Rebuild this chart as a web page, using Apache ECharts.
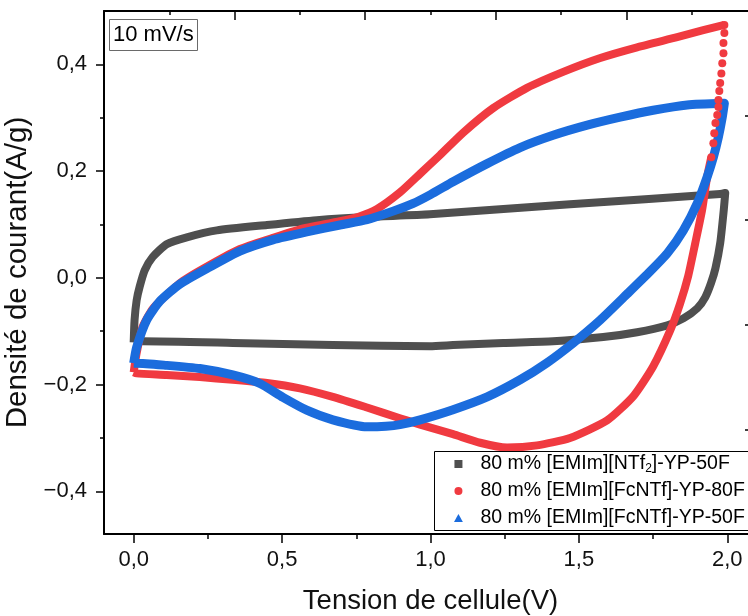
<!DOCTYPE html>
<html><head><meta charset="utf-8">
<script src="https://cdn.jsdelivr.net/npm/echarts@6/dist/echarts.min.js"></script>
<style>html,body{margin:0;padding:0;background:#fff}#c{width:748px;height:616px}</style>
</head><body><div id="c"></div>
<script>
// ---- data (V, A/g) ----
const seriesNames = ['80 m% [EMIm][NTf2]-YP-50F', '80 m% [EMIm][FcNTf]-YP-80F', '80 m% [EMIm][FcNTf]-YP-50F'];
const xMajorTicks = [0, 0.5, 1, 1.5, 2];
const xMinorTicks = [0.25, 0.75, 1.25, 1.75];
const yMajorTicks = [-0.4, -0.2, 0, 0.2, 0.4];
const yMinorTicks = [-0.3, -0.1, 0.1, 0.3];
const blackLoop = [
  [0.000,-0.121],[0.003,-0.079],[0.010,-0.042],[0.020,-0.017],[0.037,0.014],[0.064,0.039],
  [0.111,0.063],[0.179,0.076],[0.280,0.089],[0.449,0.099],[0.617,0.108],[0.786,0.114],
  [0.998,0.119],[1.470,0.138],[1.976,0.157],[1.993,0.159],[1.988,0.127],[1.976,0.065],
  [1.960,0.018],[1.945,-0.010],[1.926,-0.036],[1.899,-0.057],[1.852,-0.076],[1.798,-0.089],
  [1.696,-0.102],[1.582,-0.111],[1.413,-0.119],[1.245,-0.122],[1.076,-0.126],[0.998,-0.128],
  [0.671,-0.126],[0.334,-0.122],[0.030,-0.119],[0.000,-0.121]
];
const redUpper = [
  [0.000,-0.177],[0.010,-0.141],[0.030,-0.092],[0.064,-0.058],[0.111,-0.032],[0.165,-0.006],
  [0.256,0.024],[0.358,0.054],[0.469,0.075],[0.560,0.091],[0.695,0.106],[0.760,0.115],
  [0.820,0.129],[0.897,0.160],[0.965,0.195],[1.032,0.230],[1.110,0.272],[1.211,0.318],
  [1.325,0.356],[1.447,0.386],[1.572,0.412],[1.696,0.432],[1.831,0.451],
  [1.919,0.464],[1.990,0.474]
];
const redDots = [
  [1.990,0.474],[1.990,0.459],[1.987,0.440],[1.987,0.421],[1.983,0.402],[1.980,0.383],
  [1.976,0.365],[1.973,0.350],[1.970,0.333],[1.970,0.320],[1.966,0.305],[1.960,0.290],
  [1.956,0.271],[1.953,0.252],[1.946,0.226]
];
const redLower = [
  [1.946,0.226],[1.932,0.189],[1.915,0.127],[1.892,0.065],[1.868,0.003],[1.841,-0.048],
  [1.808,-0.098],[1.750,-0.166],[1.683,-0.222],[1.595,-0.267],[1.470,-0.300],[1.359,-0.314],
  [1.258,-0.318],[1.167,-0.309],[1.076,-0.293],[0.965,-0.275],[0.897,-0.263],[0.786,-0.243],
  [0.671,-0.223],[0.560,-0.207],[0.449,-0.197],[0.334,-0.191],[0.223,-0.186],[0.111,-0.182],
  [0.010,-0.179],[0.000,-0.177]
];
const blueLoop = [
  [0.000,-0.160],[0.010,-0.130],[0.044,-0.079],[0.088,-0.044],[0.155,-0.012],[0.256,0.020],
  [0.358,0.050],[0.469,0.071],[0.583,0.086],[0.695,0.099],[0.786,0.109],[0.874,0.125],
  [0.940,0.139],[1.000,0.156],[1.076,0.180],[1.191,0.214],[1.302,0.244],[1.413,0.267],
  [1.528,0.286],[1.639,0.301],[1.750,0.314],[1.865,0.324],[1.990,0.327],[1.983,0.301],
  [1.970,0.264],[1.953,0.226],[1.932,0.189],[1.899,0.140],[1.852,0.089],[1.798,0.046],
  [1.740,0.012],[1.663,-0.030],[1.572,-0.079],[1.481,-0.122],[1.393,-0.159],[1.302,-0.191],
  [1.191,-0.223],[1.076,-0.247],[0.965,-0.266],[0.897,-0.275],[0.850,-0.278],[0.786,-0.279],
  [0.671,-0.266],[0.583,-0.248],[0.503,-0.224],[0.425,-0.198],[0.334,-0.182],[0.223,-0.170],
  [0.111,-0.164],[0.010,-0.160],[0.000,-0.160]
];
// ---- styling ----
const FONT = '"Liberation Sans", Arial, sans-serif';
const C_BLACK = '#4f4f4f', C_RED = '#f03a40', C_BLUE = '#1b6cdd';
const fmt = v => { const s = Math.abs(v).toFixed(1).replace('.', ','); return (v < -1e-9 ? '\u2212' : '') + s; };
const axisLine = { show: true, onZero: false, lineStyle: { color: '#000', width: 2 } };
const noLine = { show: false, onZero: false };

const chart = echarts.init(document.getElementById('c'), null, { renderer: 'canvas' });
chart.setOption({
  animation: false,
  backgroundColor: '#fff',
  textStyle: { fontFamily: FONT },
  title: {
    text: '10 mV/s', left: 109, top: 19,
    borderColor: '#6a6a6a', borderWidth: 1, padding: [5, 4, 5, 4],
    textStyle: { fontSize: 22, fontWeight: 'normal', color: '#000', fontFamily: FONT }
  },
  grid: { left: 104, top: 11, right: -9, bottom: 82, outerBoundsMode: 'none', containLabel: false },
  graphic: [
    { type: 'rect', left: 434, top: 451, z: 20,
      shape: { width: 340, height: 79 },
      style: { fill: '#fff', stroke: '#000', lineWidth: 1 } }
  ],
  legend: {
    orient: 'vertical', left: 446, top: 451, z: 30,
    padding: [2, 0, 2, 8], itemGap: 5, itemWidth: 34, itemHeight: 8,
    symbolKeepAspect: true,
    selectedMode: false,
    data: [
      { name: seriesNames[0], icon: 'path://M0,0H10V10H0Z', itemStyle: { color: C_BLACK } },
      { name: seriesNames[1], icon: 'circle', itemStyle: { color: C_RED } },
      { name: seriesNames[2], icon: 'path://M5,0L10,9H0Z', itemStyle: { color: C_BLUE } }
    ],
    formatter: n => n.replace('NTf2]', 'NTf{sub|2}]'),
    textStyle: {
      fontSize: 19.5, lineHeight: 22, color: '#000', fontFamily: FONT,
      rich: { sub: { fontSize: 12, lineHeight: 12, verticalAlign: 'bottom', fontFamily: FONT } }
    }
  },
  xAxis: [
    { type: 'value', position: 'bottom', min: -0.1, max: 2.1,
      axisLine, splitLine: { show: false },
      axisTick: { customValues: xMajorTicks, length: 9, lineStyle: { color: '#000', width: 1.5 } },
      axisLabel: { customValues: xMajorTicks, formatter: fmt, fontSize: 22, margin: 15, color: '#111', fontFamily: FONT },
      name: 'Tension de cellule(V)', nameLocation: 'middle', nameGap: 53,
      nameTextStyle: { fontSize: 27.5, color: '#111', fontFamily: FONT } },
    { type: 'value', position: 'bottom', min: -0.1, max: 2.1,
      axisLine: noLine, splitLine: { show: false }, axisLabel: { show: false },
      axisTick: { customValues: xMinorTicks, length: 5, lineStyle: { color: '#000', width: 1.5 } } },
    { type: 'value', position: 'top', min: -1, max: 4, interval: 1,
      axisLine, splitLine: { show: false }, axisLabel: { show: false },
      axisTick: { inside: true, length: 9, lineStyle: { color: '#000', width: 1.5 } },
      minorTick: { show: true, splitNumber: 2, length: 4, lineStyle: { color: '#000', width: 1.5 } } }
  ],
  yAxis: [
    { type: 'value', position: 'left', min: -0.48, max: 0.5,
      axisLine, splitLine: { show: false },
      axisTick: { customValues: yMajorTicks, length: 8, lineStyle: { color: '#000', width: 1.5 } },
      axisLabel: { customValues: yMajorTicks, formatter: fmt, fontSize: 22, margin: 17, color: '#111', fontFamily: FONT },
      name: 'Densité de courant(A/g)', nameLocation: 'middle', nameGap: 62,
      nameTextStyle: { fontSize: 29.5, color: '#111', fontFamily: FONT } },
    { type: 'value', position: 'left', min: -0.48, max: 0.5,
      axisLine: noLine, splitLine: { show: false }, axisLabel: { show: false },
      axisTick: { customValues: yMinorTicks, length: 4, lineStyle: { color: '#000', width: 1.5 } } },
    { type: 'value', position: 'right', min: 0, max: 5, interval: 1,
      axisLine, splitLine: { show: false }, axisLabel: { show: false },
      axisTick: { inside: true, length: 12, lineStyle: { color: '#000', width: 1.5 } } }
  ],
  series: [
    { name: seriesNames[0], type: 'line', data: blackLoop, showSymbol: false, smooth: 0.2,
      lineStyle: { color: C_BLACK, width: 8, join: 'round' }, itemStyle: { color: C_BLACK }, z: 2 },
    { name: seriesNames[1], type: 'line', data: redUpper, showSymbol: false, smooth: 0.2,
      lineStyle: { color: C_RED, width: 8, join: 'round' }, itemStyle: { color: C_RED }, z: 3 },
    { name: 'redLower', type: 'line', data: redLower, showSymbol: false, smooth: 0.2,
      lineStyle: { color: C_RED, width: 8, join: 'round' }, itemStyle: { color: C_RED }, z: 3 },
    { name: seriesNames[2], type: 'line', data: blueLoop, showSymbol: false, smooth: 0.2,
      lineStyle: { color: C_BLUE, width: 9, join: 'round' }, itemStyle: { color: C_BLUE }, z: 4 },
    { name: 'redDots', type: 'scatter', data: redDots, symbol: 'circle', symbolSize: 8,
      itemStyle: { color: C_RED, opacity: 1 }, z: 5 }
  ]
});
</script></body></html>
